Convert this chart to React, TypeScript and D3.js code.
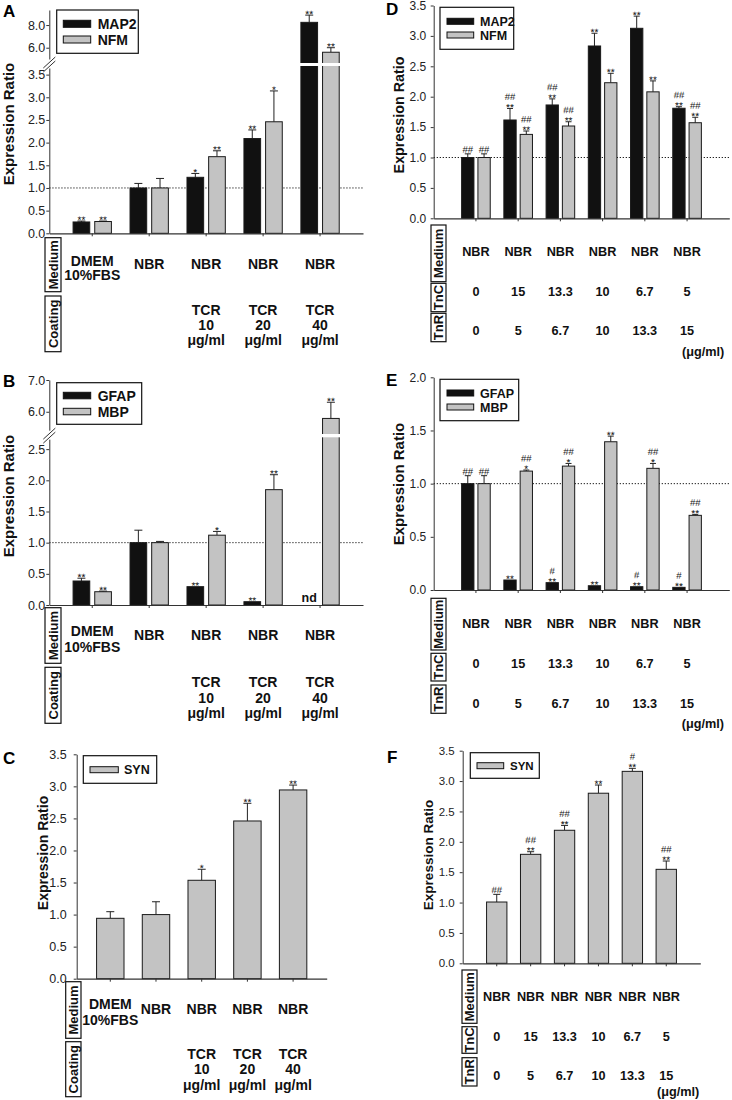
import React, { useEffect, useRef } from "react";
import * as d3 from "d3";

const FONT = "'Liberation Sans', Arial, Helvetica, sans-serif";
const BLACK = "#111111";
const GRAY = "#c3c3c3";

// ---------- categories / table text ----------
const groupsTCR = ["DMEM 10%FBS", "NBR", "NBR TCR10", "NBR TCR20", "NBR TCR40"];
const mediumTCR = [["DMEM", "10%FBS"], ["NBR"], ["NBR"], ["NBR"], ["NBR"]];
const coatingTCR = [[], [], ["TCR", "10", "μg/ml"], ["TCR", "20", "μg/ml"], ["TCR", "40", "μg/ml"]];
const groupsTn = ["0/0", "15/5", "13.3/6.7", "10/10", "6.7/13.3", "5/15"];
const mediumTn = ["NBR", "NBR", "NBR", "NBR", "NBR", "NBR"];
const tncTn = ["0", "15", "13.3", "10", "6.7", "5"];
const tnrTn = ["0", "5", "6.7", "10", "13.3", "15"];

// ---------- tick labels ----------
const ticksA = [0, 0.5, 1, 1.5, 2, 2.5, 3, 3.5];
const ticksAHigh = [6, 8];
const ticksB = [0, 0.5, 1, 1.5, 2, 2.5];
const ticksBHigh = [6, 7];
const ticksC = [0, 0.5, 1, 1.5, 2, 2.5, 3, 3.5];
const ticksD = [0, 0.5, 1, 1.5, 2, 2.5, 3, 3.5];
const ticksE = [0, 0.5, 1, 1.5, 2];
const ticksF = [0, 0.5, 1, 1.5, 2, 2.5, 3, 3.5];

// ---------- Panel A ----------
const map2A = [0.25, 1.0, 1.235, 2.09, 8.24];
const map2ASd = [0.02, 0.1, 0.085, 0.19, 0.64];
const map2AStar = ["**", "", "*", "**", "**"];
const nfmA = [0.26, 1.0, 1.69, 2.46, 5.6];
const nfmASd = [0.01, 0.21, 0.13, 0.68, 0.4];
const nfmAStar = ["**", "", "**", "*", "**"];

// ---------- Panel B ----------
const gfapB = [0.385, 1.0, 0.294, 0.053, null];
const gfapBSd = [0.045, 0.2, 0, 0, 0];
const gfapBStar = ["**", "", "**", "**", ""];
const mbpB = [0.213, 1.0, 1.12, 1.85, 5.79];
const mbpBSd = [0.01, 0.02, 0.06, 0.24, 0.51];
const mbpBStar = ["**", "", "*", "**", "**"];

// ---------- Panel C ----------
const synC = [0.942, 1.0, 1.535, 2.46, 2.944];
const synCSd = [0.103, 0.2, 0.172, 0.276, 0.076];
const synCStar = ["", "", "*", "**", "**"];

// ---------- Panel D ----------
const map2D = [1.0, 1.617, 1.864, 2.834, 3.125, 1.81];
const map2DSd = [0.06, 0.19, 0.1, 0.21, 0.2, 0.025];
const map2DStar = ["", "**", "**", "**", "**", "**"];
const map2DHash = ["##", "##", "##", "", "", "##"];
const nfmD = [1.0, 1.38, 1.518, 2.23, 2.08, 1.572];
const nfmDSd = [0.06, 0.056, 0.07, 0.155, 0.18, 0.09];
const nfmDStar = ["", "**", "**", "**", "**", "**"];
const nfmDHash = ["##", "##", "##", "", "", "##"];

// ---------- Panel E ----------
const gfapE = [1.0, 0.094, 0.069, 0.04, 0.031, 0.025];
const gfapESd = [0.075, 0, 0, 0, 0, 0];
const gfapEStar = ["", "**", "**", "**", "**", "**"];
const gfapEHash = ["##", "", "#", "", "#", "#"];
const mbpE = [1.0, 1.118, 1.165, 1.394, 1.144, 0.702];
const mbpESd = [0.075, 0.01, 0.025, 0.053, 0.046, 0.009];
const mbpEStar = ["", "*", "*", "**", "*", "**"];
const mbpEHash = ["##", "##", "##", "", "##", "##"];

// ---------- Panel F ----------
const synF = [1.009, 1.794, 2.19, 2.8, 3.16, 1.547];
const synFSd = [0.126, 0.043, 0.08, 0.135, 0.05, 0.137];
const synFStar = ["", "**", "**", "**", "**", "**"];
const synFHash = ["##", "##", "##", "", "#", "##"];

const none5 = ["", "", "", "", ""];

type Series = {
  name: string;
  fill: string;
  values: (number | null)[];
  sd: number[];
  star: string[];
  hash: string[];
};

type Row = { label: string; y0: number; y1: number; cells: string[][]; baseline: number; lh: number; multiShift: number };

type Cfg = {
  letter: string;
  letterPos: [number, number];
  ax: number;
  right: number;
  y0: number;
  lowMax: number;
  lowTop: number;
  high?: { min: number; max: number; bottom: number; top: number; ticks: number[] };
  ticks: number[];
  tickFont: number;
  tickPad: number;
  groups: string[];
  gPadIn: number;
  gPadOut: number;
  sPadIn: number;
  sPadOut: number;
  series: Series[];
  dotted: boolean;
  cap: number;
  legend: { x0: number; y0: number; x1: number; y1: number; swX: number; swW: number; swH: number; swY: number[]; textX: number; font: number };
  ylab: { b: number; cy: number; font: number };
  rows: Row[];
  boxX: [number, number];
  tableFont: number;
  unit?: { x: number; y: number };
};

const wrap1 = (a: string[]) => a.map((s) => [s]);

const panels: Cfg[] = [
  {
    letter: "A",
    letterPos: [3, 17],
    ax: 49.3,
    right: 363,
    y0: 233.3,
    lowMax: 3.69,
    lowTop: 66,
    high: { min: 4.65, max: 9.33, bottom: 63, top: 10, ticks: ticksAHigh },
    ticks: ticksA,
    tickFont: 12.5,
    tickPad: 1,
    groups: groupsTCR,
    gPadIn: 0,
    gPadOut: 0.254,
    sPadIn: 0.23,
    sPadOut: 0.43,
    series: [
      { name: "MAP2", fill: BLACK, values: map2A, sd: map2ASd, star: map2AStar, hash: none5 },
      { name: "NFM", fill: GRAY, values: nfmA, sd: nfmASd, star: nfmAStar, hash: none5 },
    ],
    dotted: true,
    cap: 8,
    legend: { x0: 56.7, y0: 10, x1: 138.3, y1: 53.3, swX: 63.3, swW: 27.4, swH: 7, swY: [20.3, 36], textX: 97.7, font: 14 },
    ylab: { b: 14, cy: 124, font: 15 },
    rows: [
      { label: "Medium", y0: 237.7, y1: 291.7, cells: mediumTCR, baseline: 269, lh: 14, multiShift: -3 },
      { label: "Coating", y0: 296, y1: 351.7, cells: coatingTCR, baseline: 315, lh: 15, multiShift: 0 },
    ],
    boxX: [45, 61],
    tableFont: 14,
  },
  {
    letter: "B",
    letterPos: [3, 387],
    ax: 49.3,
    right: 363,
    y0: 605,
    lowMax: 2.69,
    lowTop: 437.3,
    high: { min: 5.3, max: 7.0, bottom: 434, top: 380, ticks: ticksBHigh },
    ticks: ticksB,
    tickFont: 12.5,
    tickPad: 1,
    groups: groupsTCR,
    gPadIn: 0,
    gPadOut: 0.254,
    sPadIn: 0.23,
    sPadOut: 0.43,
    series: [
      { name: "GFAP", fill: BLACK, values: gfapB, sd: gfapBSd, star: gfapBStar, hash: none5 },
      { name: "MBP", fill: GRAY, values: mbpB, sd: mbpBSd, star: mbpBStar, hash: none5 },
    ],
    dotted: true,
    cap: 8,
    legend: { x0: 56.7, y0: 382.7, x1: 141.7, y1: 424.3, swX: 63.3, swW: 27.4, swH: 6.5, swY: [392.3, 408.3], textX: 97.7, font: 14 },
    ylab: { b: 14, cy: 496, font: 15 },
    rows: [
      { label: "Medium", y0: 607.7, y1: 663.3, cells: mediumTCR, baseline: 640, lh: 15.5, multiShift: -4 },
      { label: "Coating", y0: 667.3, y1: 723.3, cells: coatingTCR, baseline: 687, lh: 15.5, multiShift: 0 },
    ],
    boxX: [45, 61],
    tableFont: 14,
  },
  {
    letter: "C",
    letterPos: [3, 764],
    ax: 76.7,
    right: 326.7,
    y0: 978.7,
    lowMax: 3.5,
    lowTop: 754.3,
    ticks: ticksC,
    tickFont: 12.5,
    tickPad: 7,
    groups: groupsTCR,
    gPadIn: 0.4,
    gPadOut: 0.435,
    sPadIn: 0,
    sPadOut: 0,
    series: [{ name: "SYN", fill: GRAY, values: synC, sd: synCSd, star: synCStar, hash: none5 }],
    dotted: false,
    cap: 8,
    legend: { x0: 83.3, y0: 755.7, x1: 156.7, y1: 783.3, swX: 90, swW: 28.3, swH: 6, swY: [766.7], textX: 124, font: 12.5 },
    ylab: { b: 48, cy: 853, font: 14 },
    rows: [
      { label: "Medium", y0: 981.7, y1: 1038.3, cells: mediumTCR, baseline: 1014, lh: 16, multiShift: -5 },
      { label: "Coating", y0: 1041.7, y1: 1096.7, cells: coatingTCR, baseline: 1058.5, lh: 15.5, multiShift: 0 },
    ],
    boxX: [65.7, 81],
    tableFont: 14,
  },
  {
    letter: "D",
    letterPos: [386, 15],
    ax: 433.7,
    right: 729.3,
    y0: 218.3,
    lowMax: 3.5,
    lowTop: 5.5,
    ticks: ticksD,
    tickFont: 12,
    tickPad: 4.5,
    groups: groupsTn,
    gPadIn: 0,
    gPadOut: 0.5,
    sPadIn: 0.245,
    sPadOut: 0.418,
    series: [
      { name: "MAP2", fill: BLACK, values: map2D, sd: map2DSd, star: map2DStar, hash: map2DHash },
      { name: "NFM", fill: GRAY, values: nfmD, sd: nfmDSd, star: nfmDStar, hash: nfmDHash },
    ],
    dotted: true,
    cap: 6,
    legend: { x0: 440, y0: 7.3, x1: 513.7, y1: 49.3, swX: 447, swW: 26.7, swH: 6, swY: [18.3, 32], textX: 480, font: 12.5 },
    ylab: { b: 404, cy: 115, font: 14.3 },
    rows: [
      { label: "Medium", y0: 225, y1: 281.7, cells: wrap1(mediumTn), baseline: 256, lh: 15, multiShift: 0 },
      { label: "TnC", y0: 283.3, y1: 311.7, cells: wrap1(tncTn), baseline: 296, lh: 15, multiShift: 0 },
      { label: "TnR", y0: 313.3, y1: 341.7, cells: wrap1(tnrTn), baseline: 334.5, lh: 15, multiShift: 0 },
    ],
    boxX: [431, 446],
    tableFont: 12.7,
    unit: { x: 724.3, y: 356 },
  },
  {
    letter: "E",
    letterPos: [386, 386],
    ax: 433.7,
    right: 729.3,
    y0: 590,
    lowMax: 2.0,
    lowTop: 377.3,
    ticks: ticksE,
    tickFont: 12,
    tickPad: 4.5,
    groups: groupsTn,
    gPadIn: 0,
    gPadOut: 0.5,
    sPadIn: 0.245,
    sPadOut: 0.418,
    series: [
      { name: "GFAP", fill: BLACK, values: gfapE, sd: gfapESd, star: gfapEStar, hash: gfapEHash },
      { name: "MBP", fill: GRAY, values: mbpE, sd: mbpESd, star: mbpEStar, hash: mbpEHash },
    ],
    dotted: true,
    cap: 6,
    legend: { x0: 440, y0: 379.3, x1: 518.7, y1: 420.7, swX: 447, swW: 26.7, swH: 6, swY: [390, 404], textX: 480, font: 12.5 },
    ylab: { b: 404, cy: 484, font: 15 },
    rows: [
      { label: "Medium", y0: 598.3, y1: 650, cells: wrap1(mediumTn), baseline: 628, lh: 15, multiShift: 0 },
      { label: "TnC", y0: 653.3, y1: 681, cells: wrap1(tncTn), baseline: 667.5, lh: 15, multiShift: 0 },
      { label: "TnR", y0: 685, y1: 713.3, cells: wrap1(tnrTn), baseline: 708, lh: 15, multiShift: 0 },
    ],
    boxX: [431, 446],
    tableFont: 12.7,
    unit: { x: 724, y: 728 },
  },
  {
    letter: "F",
    letterPos: [387, 763],
    ax: 462.7,
    right: 700.3,
    y0: 963.3,
    lowMax: 3.5,
    lowTop: 750.7,
    ticks: ticksF,
    tickFont: 11.5,
    tickPad: 5,
    groups: groupsTn,
    gPadIn: 0.4,
    gPadOut: 0.704,
    sPadIn: 0,
    sPadOut: 0,
    series: [{ name: "SYN", fill: GRAY, values: synF, sd: synFSd, star: synFStar, hash: synFHash }],
    dotted: false,
    cap: 7,
    legend: { x0: 470.3, y0: 752.7, x1: 539.3, y1: 778.3, swX: 477, swW: 26.7, swH: 6, swY: [762.7], textX: 510, font: 11.5 },
    ylab: { b: 432.7, cy: 855, font: 13.5 },
    rows: [
      { label: "Medium", y0: 970, y1: 1023.3, cells: wrap1(mediumTn), baseline: 1000.5, lh: 15, multiShift: 0 },
      { label: "TnC", y0: 1026.7, y1: 1053.3, cells: wrap1(tncTn), baseline: 1041, lh: 15, multiShift: 0 },
      { label: "TnR", y0: 1057.7, y1: 1086, cells: wrap1(tnrTn), baseline: 1080, lh: 15, multiShift: 0 },
    ],
    boxX: [462, 477],
    tableFont: 12.7,
    unit: { x: 699.3, y: 1096 },
  },
];

function drawPanel(svg: d3.Selection<SVGSVGElement, unknown, null, undefined>, c: Cfg) {
  const g = svg.append("g").attr("font-family", FONT);
  const yLow = d3.scaleLinear().domain([0, c.lowMax]).range([c.y0, c.lowTop]);
  const yHigh = c.high
    ? d3.scaleLinear().domain([c.high.min, c.high.max]).range([c.high.bottom, c.high.top])
    : null;
  const yv = (v: number) => (yHigh && v > c.lowMax ? yHigh(v) : yLow(v));

  const xg = d3.scaleBand<string>().domain(c.groups).range([c.ax, c.right]).paddingInner(c.gPadIn).paddingOuter(c.gPadOut);
  const xs = d3
    .scaleBand<string>()
    .domain(c.series.map((s) => s.name))
    .range([0, xg.bandwidth()])
    .paddingInner(c.sPadIn)
    .paddingOuter(c.sPadOut);

  // dotted reference line at 1.0
  if (c.dotted) {
    g.append("line")
      .attr("x1", c.ax)
      .attr("x2", c.right)
      .attr("y1", yLow(1))
      .attr("y2", yLow(1))
      .attr("stroke", "#222")
      .attr("stroke-width", 1)
      .attr("stroke-dasharray", "1.3,1.7");
  }

  // bars
  c.series.forEach((s) => {
    c.groups.forEach((grp, gi) => {
      const v = s.values[gi];
      const x = (xg(grp) as number) + (xs(s.name) as number);
      const w = xs.bandwidth();
      const cx = x + w / 2;
      if (v === null || v === undefined) {
        g.append("text")
          .attr("x", cx)
          .attr("y", c.y0 - 3)
          .attr("text-anchor", "middle")
          .attr("font-size", 12.5)
          .attr("font-weight", "bold")
          .attr("fill", "#111")
          .text("nd");
        return;
      }
      const sd = s.sd[gi] || 0;
      const yTop = yv(v);
      const yErr = yv(v + sd);
      if (sd > 0) {
        g.append("line").attr("x1", cx).attr("x2", cx).attr("y1", yTop).attr("y2", yErr).attr("stroke", "#222").attr("stroke-width", 1);
        g.append("line")
          .attr("x1", cx - c.cap / 2)
          .attr("x2", cx + c.cap / 2)
          .attr("y1", yErr)
          .attr("y2", yErr)
          .attr("stroke", "#222")
          .attr("stroke-width", 1);
      }
      g.append("rect")
        .attr("x", x)
        .attr("y", yTop)
        .attr("width", w)
        .attr("height", c.y0 - yTop)
        .attr("fill", s.fill)
        .attr("stroke", "#1a1a1a")
        .attr("stroke-width", 1);
      if (c.high && v > c.lowMax) {
        g.append("rect")
          .attr("x", x - 1.5)
          .attr("y", c.high.bottom)
          .attr("width", w + 3)
          .attr("height", c.lowTop - c.high.bottom)
          .attr("fill", "white");
      }
      const fs = 10;
      const starC = yErr - 3.5;
      if (s.star[gi]) {
        g.append("text")
          .attr("transform", `translate(${cx},${starC + 0.58 * fs}) rotate(0.3)`)
          .attr("text-anchor", "middle")
          .attr("font-size", fs)
          .attr("fill", "#111")
          .text(s.star[gi]);
      }
      if (s.hash[gi]) {
        const hc = s.star[gi] ? starC - 8.5 : yErr - 4.5;
        g.append("text")
          .attr("transform", `translate(${cx},${hc + 0.35 * fs}) rotate(0.3)`)
          .attr("text-anchor", "middle")
          .attr("font-size", fs - 0.5)
          .attr("fill", "#111")
          .text(s.hash[gi]);
      }
    });
  });

  // y axis (lower)
  const styleAxis = (sel: d3.Selection<SVGGElement, unknown, null, undefined>) => {
    sel.attr("font-family", FONT).attr("font-size", c.tickFont);
    sel.selectAll("path").attr("stroke", "#333");
    sel.selectAll("line").attr("stroke", "#333");
    sel.selectAll("text").attr("fill", "#222");
  };
  const yAxisLow = g
    .append("g")
    .attr("transform", `translate(${c.ax},0)`)
    .call(
      d3
        .axisLeft(yLow)
        .tickValues(c.ticks)
        .tickFormat(d3.format(".1f"))
        .tickSizeInner(3)
        .tickSizeOuter(0)
        .tickPadding(c.tickPad)
    );
  styleAxis(yAxisLow);
  if (c.high && yHigh) {
    const yAxisHigh = g
      .append("g")
      .attr("transform", `translate(${c.ax},0)`)
      .call(
        d3
          .axisLeft(yHigh)
          .tickValues(c.high.ticks)
          .tickFormat(d3.format(".1f"))
          .tickSizeInner(3)
          .tickSizeOuter(0)
          .tickPadding(c.tickPad)
      );
    styleAxis(yAxisHigh);
    const mid = (c.high.bottom + c.lowTop) / 2;
    g.append("rect").attr("x", c.ax - 2).attr("y", mid - 5).attr("width", 4).attr("height", 9).attr("fill", "white");
    [-2, 2].forEach((off) => {
      g.append("line")
        .attr("x1", c.ax - 6)
        .attr("y1", mid + off + 5.5)
        .attr("x2", c.ax + 6)
        .attr("y2", mid + off - 5.5)
        .attr("stroke", "#333")
        .attr("stroke-width", 1);
    });
  }

  // x axis
  const xAxis = g
    .append("g")
    .attr("transform", `translate(0,${c.y0})`)
    .call(d3.axisBottom(xg).tickSizeInner(3).tickSizeOuter(0).tickFormat(() => ""));
  xAxis.selectAll("path").attr("stroke", "#333").attr("stroke-width", 1.2);
  xAxis.selectAll("line").attr("stroke", "#333");

  // legend
  const L = c.legend;
  g.append("rect")
    .attr("x", L.x0)
    .attr("y", L.y0)
    .attr("width", L.x1 - L.x0)
    .attr("height", L.y1 - L.y0)
    .attr("fill", "white")
    .attr("stroke", "#111")
    .attr("stroke-width", 1.2);
  c.series.forEach((s, i) => {
    g.append("rect")
      .attr("x", L.swX)
      .attr("y", L.swY[i])
      .attr("width", L.swW)
      .attr("height", L.swH)
      .attr("fill", s.fill)
      .attr("stroke", "#111")
      .attr("stroke-width", 1);
    g.append("text")
      .attr("x", L.textX)
      .attr("y", L.swY[i] + L.swH / 2 + 0.36 * L.font)
      .attr("font-size", L.font)
      .attr("font-weight", "bold")
      .attr("fill", "#111")
      .text(s.name);
  });

  // y label
  g.append("text")
    .attr("transform", `translate(${c.ylab.b},${c.ylab.cy}) rotate(-90)`)
    .attr("text-anchor", "middle")
    .attr("font-size", c.ylab.font)
    .attr("font-weight", "bold")
    .attr("fill", "#111")
    .text("Expression Ratio");

  // panel letter
  g.append("text")
    .attr("x", c.letterPos[0])
    .attr("y", c.letterPos[1])
    .attr("font-size", 17)
    .attr("font-weight", "bold")
    .attr("fill", "#000")
    .text(c.letter);

  // table rows
  c.rows.forEach((r) => {
    const bw = c.boxX[1] - c.boxX[0];
    g.append("rect")
      .attr("x", c.boxX[0])
      .attr("y", r.y0)
      .attr("width", bw)
      .attr("height", r.y1 - r.y0)
      .attr("fill", "white")
      .attr("stroke", "#111")
      .attr("stroke-width", 1.2);
    g.append("text")
      .attr("transform", `translate(${c.boxX[0] + bw / 2 + 0.36 * 13},${(r.y0 + r.y1) / 2}) rotate(-90)`)
      .attr("text-anchor", "middle")
      .attr("font-size", 13)
      .attr("font-weight", "bold")
      .attr("fill", "#111")
      .text(r.label);
    c.groups.forEach((grp, gi) => {
      const lines = r.cells[gi] || [];
      const cx = (xg(grp) as number) + xg.bandwidth() / 2;
      const start = r.baseline + (lines.length > 1 ? r.multiShift : 0);
      lines.forEach((ln, li) => {
        g.append("text")
          .attr("x", cx)
          .attr("y", start + li * r.lh)
          .attr("text-anchor", "middle")
          .attr("font-size", c.tableFont)
          .attr("font-weight", "bold")
          .attr("fill", "#111")
          .text(ln);
      });
    });
  });

  if (c.unit) {
    g.append("text")
      .attr("x", c.unit.x)
      .attr("y", c.unit.y)
      .attr("text-anchor", "end")
      .attr("font-size", c.tableFont)
      .attr("font-weight", "bold")
      .attr("fill", "#111")
      .text("(μg/ml)");
  }
}

export default function App() {
  const ref = useRef<SVGSVGElement | null>(null);
  useEffect(() => {
    if (!ref.current) return;
    const svg = d3.select(ref.current);
    svg.selectAll("*").remove();
    svg.append("rect").attr("width", 732).attr("height", 1100).attr("fill", "white");
    panels.forEach((p) => drawPanel(svg as any, p));
  }, []);
  return (
    <svg
      ref={ref}
      width={732}
      height={1100}
      viewBox="0 0 732 1100"
      style={{ position: "absolute", left: 0, top: 0, background: "white" }}
    />
  );
}
